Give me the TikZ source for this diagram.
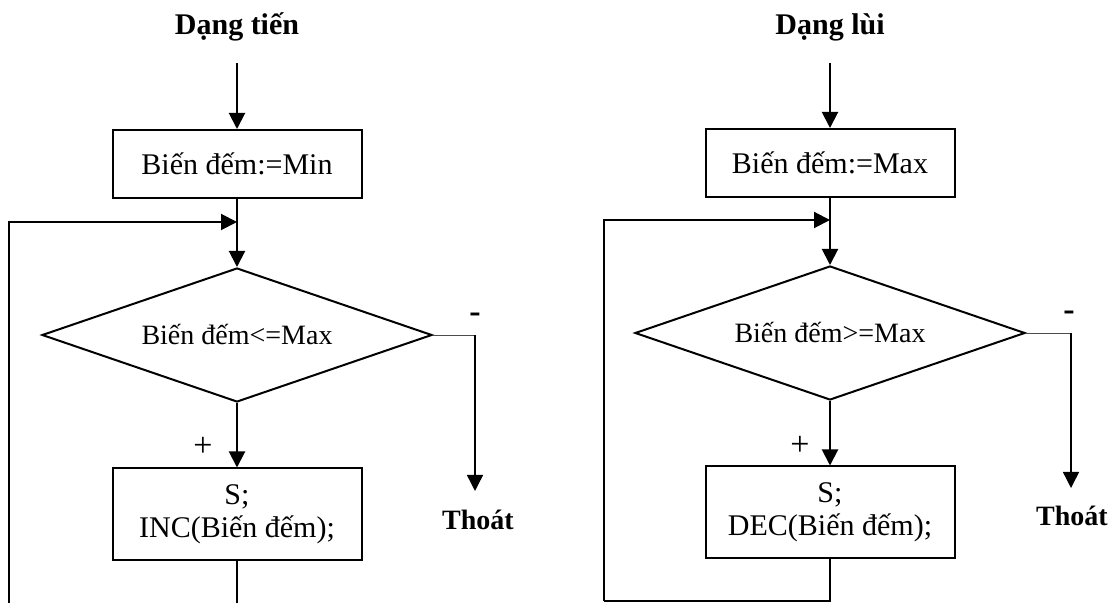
\documentclass[tikz,border=0pt]{standalone}
\usepackage{fontspec}
\setmainfont{Liberation Serif}
\usetikzlibrary{shapes.geometric, arrows.meta}
\tikzset{
    box/.style={draw, rectangle, line width=1pt, minimum height=34pt, minimum width=124.5pt, align=center, font=\fontsize{15}{16.5}\selectfont},
    body/.style={box, minimum height=45.5pt},
    cond/.style={draw, diamond, aspect=2.9, line width=1pt, inner sep=0pt, minimum width=195pt, minimum height=67pt, font=\fontsize{14}{16}\selectfont},
    title/.style={font=\fontsize{15}{17}\selectfont\bfseries},
    sign/.style={font=\fontsize{17}{19}\selectfont},
    arr/.style={line width=1pt, -{Triangle[length=8pt,width=8pt]}},
    exitline/.style={line width=0.4pt, draw=black!70},
    exitarr/.style={line width=0.7pt, -{Triangle[length=8pt,width=8pt]}}
}

\begin{document}
\begin{tikzpicture}[x=0.5pt,y=-0.5pt]
    \useasboundingbox (0,0) rectangle (1113,603);

    \node[title] (tien) at (237,27) {Dạng tiến};
    \coordinate (start1) at (237,63);
    \node[box] (init1) at (237,164) {Biến đếm:=Min};
    \coordinate (join1) at (237,222);
    \node[cond] (cond1) at (237,335) {Biến đếm<=Max};
    \node[body] (body1) at (237,514) {S;\\INC(Biến đếm);};
    \coordinate (end1) at (237,603);
    \coordinate (corner1) at (9,603);
    \coordinate (exit1) at (475,335);
    \coordinate (tip1) at (475,491);
    \node[title, font=\fontsize{14}{16}\selectfont\bfseries] (out1) at (478,520) {Thoát};
    \node[sign] at (203,447) {+};
    \node[sign, font=\fontsize{17}{19}\selectfont\bfseries] at (475,318) {-};
    \draw[arr] (start1) -- (init1);
    \draw[arr] (init1) -- (cond1);
    \draw[arr] (cond1) -- (body1);
    \draw[line width=1pt] (body1) -- (end1);
    \draw[arr] (corner1) |- (join1);
    \draw[exitline] (cond1.east) -- (exit1);
    \draw[exitarr] (exit1) -- (tip1);

    \node[title] (lui) at (830,27) {Dạng lùi};
    \coordinate (start2) at (830,63);
    \node[box] (init2) at (830,163) {Biến đếm:=Max};
    \coordinate (join2) at (830,220);
    \node[cond] (cond2) at (830,333) {Biến đếm>=Max};
    \node[body] (body2) at (830,512) {S;\\DEC(Biến đếm);};
    \coordinate (end2) at (830,601);
    \coordinate (corner2) at (604,601);
    \coordinate (exit2) at (1071,333);
    \coordinate (tip2) at (1071,488);
    \node[title, font=\fontsize{14}{16}\selectfont\bfseries] (out2) at (1072,516) {Thoát};
    \node[sign] at (800,446) {+};
    \node[sign, font=\fontsize{17}{19}\selectfont\bfseries] at (1069,316) {-};
    \draw[arr] (start2) -- (init2);
    \draw[arr] (init2) -- (cond2);
    \draw[arr] (cond2) -- (body2);
    \draw[line width=1pt] (body2) -- (end2) -- (corner2);
    \draw[arr] (corner2) |- (join2);
    \draw[exitline] (cond2.east) -- (exit2);
    \draw[exitarr] (exit2) -- (tip2);
\end{tikzpicture}
\end{document}
